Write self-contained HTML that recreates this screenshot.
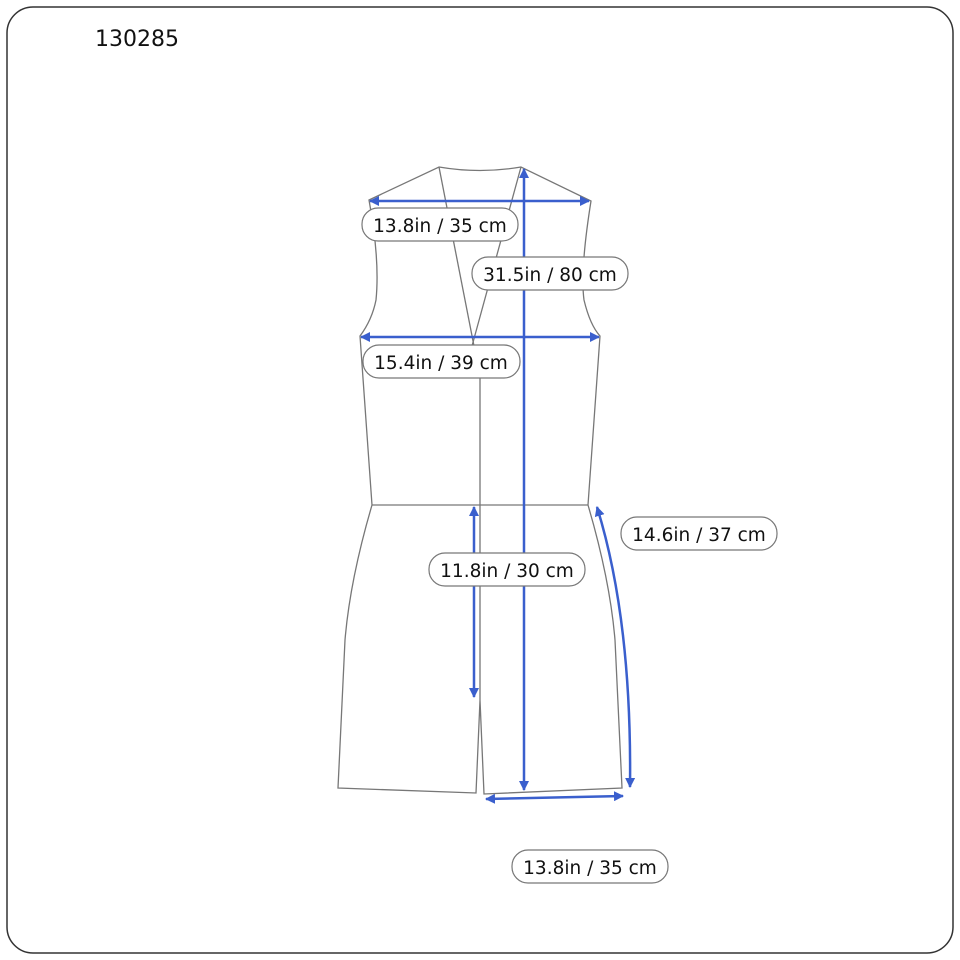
<!DOCTYPE html>
<html><head><meta charset="utf-8"><style>
html,body{margin:0;padding:0;background:#fff;}
svg{display:block;}
text{font-family:"DejaVu Sans","Liberation Sans",sans-serif;fill:#111;}
</style></head><body>
<svg width="960" height="960" viewBox="0 0 960 960" xmlns="http://www.w3.org/2000/svg">
<defs>
<marker id="a" viewBox="0 0 10 10" refX="9" refY="5" markerWidth="4" markerHeight="4" orient="auto-start-reverse"><path d="M0,0L10,5L0,10z" fill="#3a5fcd"/></marker>
</defs>
<rect x="7" y="7" width="946" height="946" rx="26" fill="#fff" stroke="#333" stroke-width="1.5"/>
<text x="95" y="46" font-size="22">130285</text>
<g fill="none" stroke="#777" stroke-width="1.3">
<path d="M369,200 L439,167 Q480,174 521,167 L591,201 Q580,270 584,300 Q590,325 600,336 L588,505 Q610,580 615,640 L622,788 L484,794 L480,700 L476,793 L338,788 L345,640 Q350,580 372,505 L360,336 Q372,320 376,300 Q380,260 369,200 Z"/>
<path d="M372,505 L588,505"/>
<path d="M439,167 L474,346"/>
<path d="M521,167 L472,346"/>
<path d="M480,346 L480,700"/>
</g>
<g fill="none" stroke="#3a5fcd" stroke-width="2.5" marker-start="url(#a)" marker-end="url(#a)">
<path d="M370,201 L589,201"/>
<path d="M361,337 L599,337"/>
<path d="M524,169 L524,790"/>
<path d="M474,507 L474,697"/>
<path d="M597,507 Q632,620 630,787"/>
<path d="M486,799 L623,796"/>
</g>
<g fill="#fff" stroke="#777" stroke-width="1.2">
<rect x="362" y="208" width="156" height="33" rx="16"/>
<rect x="472" y="257" width="156" height="33" rx="16"/>
<rect x="363" y="345" width="157" height="33" rx="16"/>
<rect x="621" y="517" width="156" height="33" rx="16"/>
<rect x="429" y="553" width="156" height="33" rx="16"/>
<rect x="512" y="850" width="156" height="33" rx="16"/>
</g>
<g font-size="18.5" text-anchor="middle">
<text x="440" y="232">13.8in / 35 cm</text>
<text x="550" y="281">31.5in / 80 cm</text>
<text x="441" y="369">15.4in / 39 cm</text>
<text x="699" y="541">14.6in / 37 cm</text>
<text x="507" y="577">11.8in / 30 cm</text>
<text x="590" y="874">13.8in / 35 cm</text>
</g>
</svg>
</body></html>
